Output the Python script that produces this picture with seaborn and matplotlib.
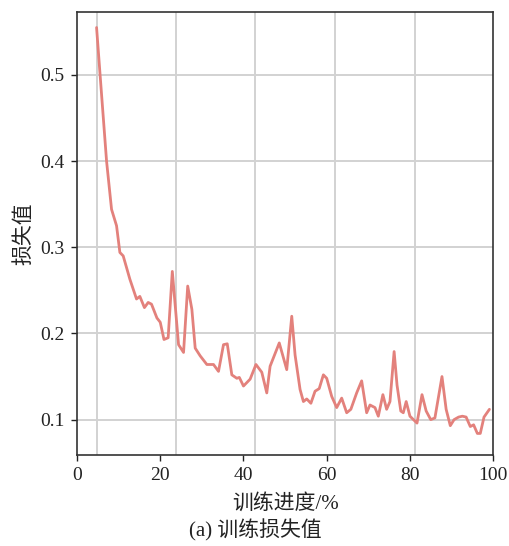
import pandas as pd
import seaborn as sns
import matplotlib.pyplot as plt

# training progress (%) and loss
progress = [4.7, 5.5, 7.1, 8.3, 9.5, 10.3, 11.1, 12.7, 14.3, 15.1, 16.2, 17.1, 17.9,
            19.2, 20.0, 20.9, 21.9, 22.9, 24.4, 25.6, 26.6, 27.6, 28.4, 29.6, 31.2,
            32.8, 34.0, 35.2, 36.1, 37.2, 38.4, 39.0, 40.0, 41.6, 43.0, 44.4, 45.6,
            46.4, 48.6, 50.4, 51.6, 52.4, 53.6, 54.4, 55.2, 56.2, 57.2, 58.2, 59.2,
            60.0, 61.2, 62.4, 63.6, 64.8, 65.8, 67.2, 68.4, 69.6, 70.4, 71.6, 72.4,
            73.5, 74.4, 75.2, 76.2, 76.9, 77.8, 78.4, 79.1, 80.0, 81.7, 82.9, 83.9,
            85.0, 86.0, 87.7, 88.7, 89.7, 90.6, 91.7, 92.6, 93.5, 94.5, 95.3, 96.2,
            96.9, 97.8, 99.1]
loss = [0.555, 0.503, 0.400, 0.344, 0.325, 0.294, 0.290, 0.263, 0.240, 0.243, 0.230,
        0.236, 0.234, 0.218, 0.213, 0.193, 0.195, 0.272, 0.187, 0.178, 0.255, 0.228,
        0.183, 0.174, 0.164, 0.164, 0.156, 0.187, 0.188, 0.152, 0.148, 0.149, 0.139,
        0.147, 0.164, 0.155, 0.131, 0.162, 0.189, 0.158, 0.220, 0.175, 0.135, 0.121,
        0.124, 0.119, 0.133, 0.136, 0.152, 0.148, 0.127, 0.114, 0.125, 0.108, 0.112,
        0.131, 0.145, 0.108, 0.117, 0.114, 0.104, 0.129, 0.112, 0.121, 0.179, 0.140,
        0.110, 0.108, 0.121, 0.104, 0.096, 0.129, 0.110, 0.100, 0.102, 0.150, 0.112,
        0.093, 0.100, 0.103, 0.104, 0.103, 0.092, 0.094, 0.084, 0.084, 0.103, 0.112]

xticks = [0, 20, 40, 60, 80, 100]
yticks = [0.1, 0.2, 0.3, 0.4, 0.5]
grid_x = [4.7, 23.8, 42.8, 62.0, 81.3]

df = pd.DataFrame({'progress': progress, 'loss': loss})

sns.set_theme(style="ticks")
plt.rcParams['font.family'] = ['Liberation Serif', 'Noto Sans CJK SC']

fig = plt.figure(figsize=(5.1, 5.46), dpi=100)
ax = fig.add_axes([0.151, 0.1667, 0.816, 0.8113])

sns.lineplot(data=df, x='progress', y='loss', color='#e3817c', linewidth=2.0, ax=ax)

ax.set_xlim(0, 100)
ax.set_ylim(0.059, 0.573)
ax.set_xticks(xticks)
ax.set_yticks(yticks)
ax.set_yticklabels([f'{v:.1f}' for v in yticks])
ax.set_xticks(grid_x, minor=True)
ax.grid(which='minor', axis='x', color='#d2d2d2', linewidth=1.4)
ax.grid(which='major', axis='y', color='#d2d2d2', linewidth=1.4)
ax.set_axisbelow(True)
ax.tick_params(which='minor', length=0)
ax.tick_params(which='major', direction='out', length=4, width=1, colors='#222222',
               labelsize=14, labelcolor='#222222', pad=5)

for s in ax.spines.values():
    s.set_color('#333333')
    s.set_linewidth(1.2)

ax.set_xlabel('训练进度/%', fontsize=15, color='#222222', labelpad=7)
ax.set_ylabel('损失值', fontsize=15, color='#222222', labelpad=4)
fig.text(0.5, 0.028, '(a) 训练损失值', ha='center', va='center', fontsize=15, color='#222222')

plt.savefig("out.png", dpi=100)
